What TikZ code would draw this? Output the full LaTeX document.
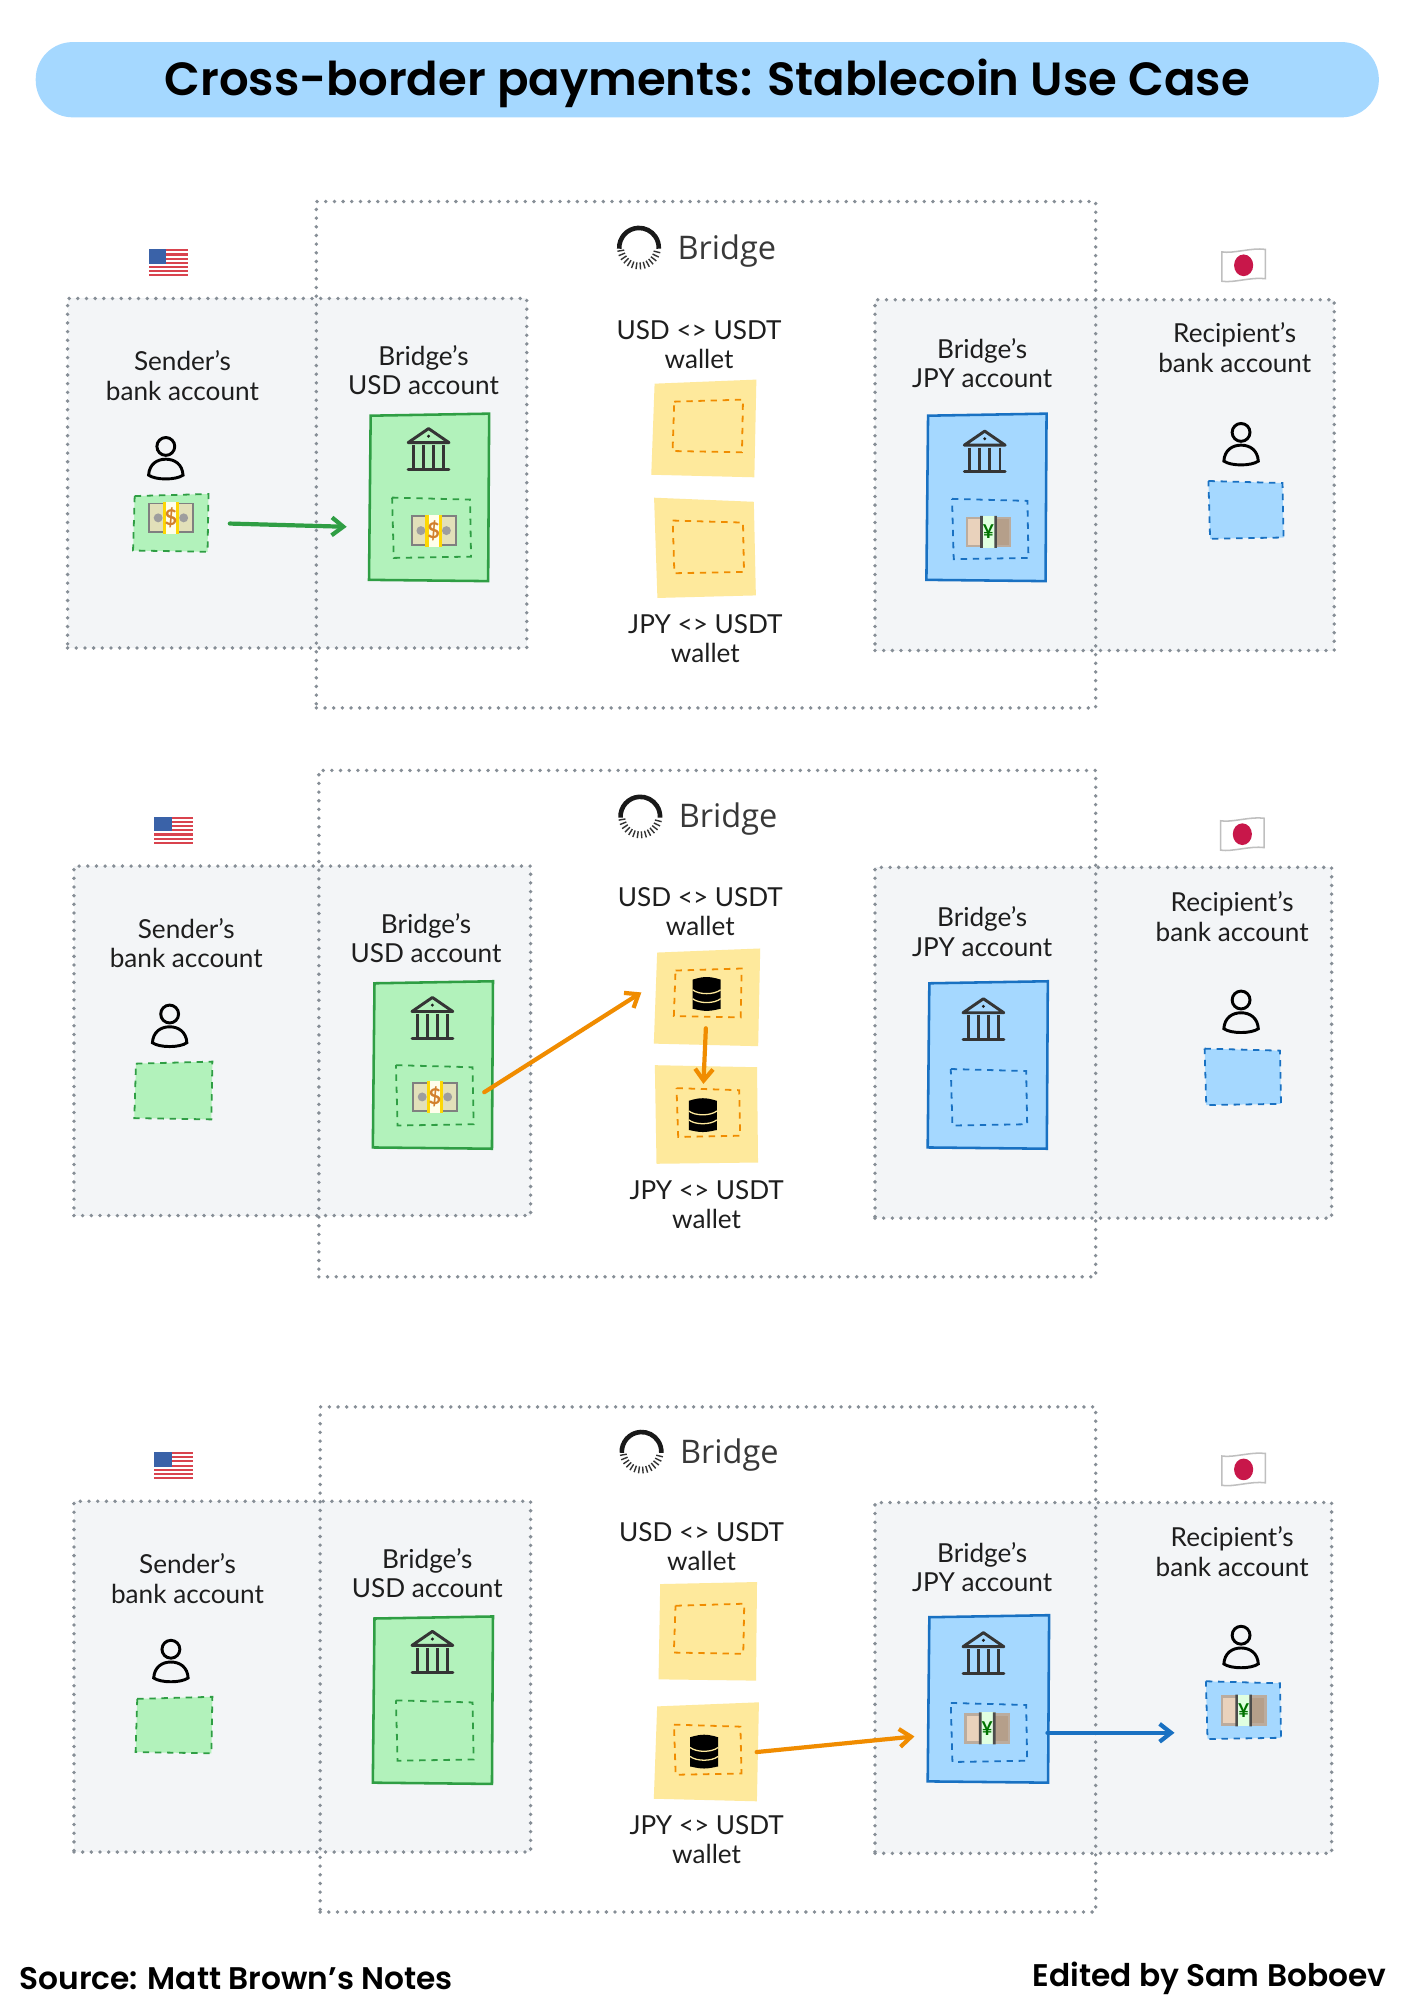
\documentclass[tikz,border=0pt]{standalone}
\usepackage{fontspec}
\setmainfont{Lato}
\newfontfamily\headf{Poppins}[BoldFont={Poppins SemiBold}]
\newfontfamily\brandf{Open Sans}
\usetikzlibrary{arrows.meta,fit,calc}
\definecolor{gfill}{HTML}{B2F2BB}
\definecolor{gline}{HTML}{2F9E44}
\definecolor{bfill}{HTML}{A5D8FF}
\definecolor{bline}{HTML}{1971C2}
\definecolor{yfill}{HTML}{FEE99C}
\definecolor{yline}{HTML}{F08C00}
\definecolor{panel}{HTML}{F3F5F7}
\definecolor{dotc}{HTML}{868E96}
\definecolor{ink}{HTML}{1E1E1E}
\definecolor{usred}{HTML}{D9434E}
\definecolor{usblue}{HTML}{3A62A8}
\definecolor{jpred}{HTML}{C8174A}
\tikzset{
  dotrect/.style={draw=dotc,line width=3pt,dash pattern=on 0pt off 6.8pt,line cap=round,inner sep=0pt},
  lbl/.style={align=center,text=ink,font=\fontsize{20.5}{23}\selectfont,inner sep=0pt},
  solidg/.style={fill=gfill,draw=gline,line width=2pt},
  solidb/.style={fill=bfill,draw=bline,line width=2pt},
  solidy/.style={fill=yfill},
  dashg/.style={draw=gline,line width=1.4pt,dash pattern=on 5pt off 4.5pt},
  dashb/.style={draw=bline,line width=1.4pt,dash pattern=on 5pt off 4.5pt},
  dashy/.style={draw=yline,line width=1.4pt,dash pattern=on 5pt off 4.5pt},
  fillg/.style={fill=gfill,dashg},
  fillb/.style={fill=bfill,dashb},
  conn/.style={line width=3.3pt,line cap=round,-{Straight Barb[length=9pt,width=14pt,line width=3.3pt]}},
}
% hand-drawn box: name, x1,y1,x2,y2, style, jitter
\newcommand{\mysk}[7]{%
  \node[fit={(#2,#3)(#4,#5)},inner sep=0pt] (#1) {};
  \path[#6] (#2+#7*0.6,#3+#7*0.9) -- (#4+#7*0.5,#3-#7*0.7) -- (#4-#7*0.3,#5+#7*0.6) -- (#2-#7*0.7,#5-#7*0.4) -- cycle;
}
\newcommand{\mylabel}[4]{\node[lbl] (#1) at (#2,#3) {#4};}
\newcommand{\myperson}[3]{%
  \node[inner sep=0pt,minimum width=28pt,minimum height=34pt] (#1) at (#2,#3) {};
  \begin{scope}[shift={(#2,#3)},draw=black,line width=2.3pt]
    \draw (0,-9) circle (7pt);
    \draw (-13.5,13.5) .. controls (-13,5) and (-7,1) .. (0,1) .. controls (7,1) and (13,5) .. (13.5,13.5) .. controls (8,17.5) and (-8,17.5) .. (-13.5,13.5) -- cycle;
  \end{scope}}
\newcommand{\mybank}[3]{%
  \node[inner sep=0pt,minimum width=34pt,minimum height=34pt] (#1) at (#2,#3) {};
  \begin{scope}[shift={(#2,#3)},draw=ink!90,line width=2.3pt,line join=round]
    \draw (-16,-5) -- (0,-16) -- (16,-5) -- cycle;
    \fill[ink] (0,-10) circle (1.3pt);
    \draw[line cap=round] (-16,16) -- (16,16);
    \foreach \cx in {-12,-4,4,12} {\draw (\cx,-3) -- (\cx,15);}
  \end{scope}}
\newcommand{\mydollar}[3]{%
  \begin{scope}[shift={(#2,#3)}]
    \fill[black!50] (-18,-12) rectangle (18,12);
    \fill[black!18!olive!22] (-16.5,-10.5) rectangle (16.5,10.5);
    \fill[black!38] (-10,0) circle (3.5pt) (10,0) circle (3.5pt);
    \fill[yellow!75!orange] (-6.5,-12.5) rectangle (6.5,12.5);
    \fill[white!92!yellow] (-4,-12.5) rectangle (4,12.5);
  \end{scope}
  \node[inner sep=0pt,text=brown!70!orange,font=\fontsize{17}{17}\selectfont\bfseries] (#1) at (#2,#3) {\$};}
\newcommand{\myyen}[3]{%
  \begin{scope}[shift={(#2,#3)}]
    \fill[brown!35!gray!65] (-18,-12) rectangle (18,12);
    \fill[brown!35!white] (-16,-10) rectangle (-5,10);
    \fill[brown!45!gray!75] (5,-10) rectangle (16,10);
    \fill[green!12!white] (-6,-12.5) rectangle (6,12.5);
    \fill[black!70] (-6.5,-12.5) rectangle (-4.5,12.5) (4.5,-12.5) rectangle (6.5,12.5);
  \end{scope}
  \node[inner sep=0pt,text=green!45!black,font=\fontsize{15}{15}\selectfont\bfseries] (#1) at (#2,#3) {¥};}
\newcommand{\mydb}[3]{%
  \node[inner sep=0pt,minimum width=22pt,minimum height=26pt] (#1) at (#2,#3) {};
  \begin{scope}[shift={(#2,#3)}]
    \fill[black,rounded corners=3pt] (-11,-8) arc[start angle=180,end angle=0,x radius=11pt,y radius=5pt] -- (11,9) arc[start angle=0,end angle=-180,x radius=11pt,y radius=4.5pt] -- cycle;
    \draw[yfill,line width=1pt] (-11,-3) .. controls (-6,1) and (6,1) .. (11,-3);
    \draw[yfill,line width=1pt] (-11,4) .. controls (-6,8) and (6,8) .. (11,4);
  \end{scope}}
\newcommand{\myus}[3]{%
  \node[inner sep=0pt,minimum width=30pt,minimum height=21pt] (#1) at (#2,#3) {};
  \begin{scope}[shift={(#2,#3)}]
    \fill[white] (-15,-10.5) rectangle (15,10.5);
    \foreach \k in {0,2,4,6,8,10,12} {\fill[usred] (-15,-10.5+\k*1.615) rectangle (15,-10.5+\k*1.615+1.615);}
    \fill[usblue] (-15,-10.5) rectangle (-1.5,0.8);
  \end{scope}}
\newcommand{\myjp}[3]{%
  \node[inner sep=0pt,minimum width=35pt,minimum height=26pt] (#1) at (#2,#3) {};
  \begin{scope}[shift={(#2,#3)}]
    \fill[white,draw=black!25,line width=1.2pt] (-17,-10.5) .. controls (-8,-9) and (6,-14) .. (17,-12.5) -- (17,10.5) .. controls (6,9) and (-8,14) .. (-17,12.5) -- cycle;
    \fill[jpred] (0,0) ellipse (7.5pt and 8.5pt);
  \end{scope}}
\newcommand{\mylogo}[3]{%
  \node[inner sep=0pt,minimum width=34pt,minimum height=34pt] (#1) at (#2,#3) {};
  \begin{scope}[shift={(#2,#3)}]
    \draw[black!90,line width=3.6pt] (-15.5,1) arc[start angle=183,end angle=-3,radius=15.5pt];
    \foreach \a in {190,202,...,350} {\draw[black!80,line width=1.1pt] (\a:11.8pt) -- (\a:17.2pt);}
  \end{scope}}
\newcommand{\mybrand}[3]{\node[inner sep=0pt,anchor=west,text=black!78,font=\brandf\fontsize{25.5}{30}\selectfont] (#1) at (#2,#3+2.5) {Bridge};}
\begin{document}
\begin{tikzpicture}[x=1pt,y=-1pt]
\useasboundingbox (0,0) rectangle (1108.6,1568);
\fill[white] (0,0) rectangle (1108.6,1568);
% title
\node[fill=bfill,rounded corners=29pt,fit={(28,33)(1081,92)},inner sep=0pt] (titlebar) {};
\node[font=\headf\bfseries\fontsize{36.5}{44}\selectfont,text=black,inner sep=0pt] (titletext) at (554.5,65) {Cross-border payments: Stablecoin Use Case};

%%% PANEL 1
\node[dotrect,fill=panel,fit={(53,234)(413,508)}] (leftA) {};
\node[dotrect,fill=panel,fit={(686,235)(1046,510)}] (rightA) {};
\node[dotrect,fit={(248,158)(859,555)}] (bigA) {};
\myus{usA}{132}{206}
\myjp{jpA}{975}{208}
\mylogo{logoA}{501}{194}
\mybrand{brandA}{531}{194}
\mylabel{senderA}{143}{294.5}{Sender’s\\bank account}
\mylabel{busdA}{332}{290}{Bridge’s\\USD account}
\mylabel{uwalletA}{548}{270}{USD <> USDT\\wallet}
\mylabel{jwalletA}{553}{500.5}{JPY <> USDT\\wallet}
\mylabel{bjpyA}{770}{284.5}{Bridge’s\\JPY account}
\mylabel{recipA}{968}{272.5}{Recipient’s\\bank account}
\mysk{ybA}{512}{299}{592}{373}{solidy}{2}
\mysk{yjA}{514}{392}{592}{468}{solidy}{-2}
\mysk{ybdA}{528}{314}{582}{354}{dashy}{1}
\mysk{yjdA}{528}{409}{583}{449}{dashy}{-1}
\mysk{gbA}{290}{325}{383}{455}{solidg}{1}
\mybank{bankgA}{336}{352}
\mysk{gdA}{308}{391}{369}{437}{dashg}{-1}
\mydollar{moneygA}{340}{416}
\mysk{bbA}{727}{325}{820}{455}{solidb}{1}
\mybank{bankbA}{772}{354}
\mysk{bdA}{747}{392}{806}{438}{dashb}{-1}
\myyen{moneybA}{775}{417}
\myperson{personLA}{130}{359}
\mysk{sgA}{105}{388}{163}{432}{fillg}{1}
\mydollar{moneysA}{134}{406}
\myperson{personRA}{973}{348}
\mysk{sbA}{948}{378}{1006}{422}{fillb}{-1}
\draw[conn,gline,yshift=3pt,shorten <=17pt,shorten >=36pt] (sgA.east) -- (gdA.west);

%%% PANEL 2
\node[dotrect,fill=panel,fit={(58,679)(416,953)}] (leftB) {};
\node[dotrect,fill=panel,fit={(686,680)(1044,955)}] (rightB) {};
\node[dotrect,fit={(250,604)(859,1001)}] (bigB) {};
\myus{usB}{136}{651}
\myjp{jpB}{974}{654}
\mylogo{logoB}{502}{640}
\mybrand{brandB}{532}{640}
\mylabel{senderB}{146}{739.5}{Sender’s\\bank account}
\mylabel{busdB}{334}{735.5}{Bridge’s\\USD account}
\mylabel{uwalletB}{549}{714.5}{USD <> USDT\\wallet}
\mylabel{jwalletB}{554}{944.5}{JPY <> USDT\\wallet}
\mylabel{bjpyB}{770}{730.5}{Bridge’s\\JPY account}
\mylabel{recipB}{966}{718.5}{Recipient’s\\bank account}
\mysk{ybB}{514}{745}{595}{819}{solidy}{2}
\mysk{yjB}{514}{836}{594}{912}{solidy}{-1}
\mysk{ybdB}{529}{760}{581}{797}{dashy}{1}
\mysk{yjdB}{531}{854}{580}{891}{dashy}{-1}
\mydb{dbuB}{554}{779}
\mydb{dbjB}{551}{874}
\mysk{gbB}{293}{770}{386}{900}{solidg}{1}
\mybank{bankgB}{339}{798}
\mysk{gdB}{311}{836}{371}{882}{dashg}{-1}
\mydollar{moneygB}{341}{860}
\mysk{bbB}{728}{770}{821}{900}{solidb}{1}
\mybank{bankbB}{771}{799}
\mysk{bdB}{746}{839}{805}{882}{dashb}{-1}
\myperson{personLB}{133}{804}
\mysk{sgB}{106}{833}{166}{877}{fillg}{1}
\myperson{personRB}{973}{793}
\mysk{sbB}{945}{823}{1004}{866}{fillb}{-1}
\draw[conn,yline,shorten <=10pt,shorten >=13pt] (gdB.-5) -- (ybB.165);
\draw[conn,yline,shorten <=14pt,shorten >=11pt] (dbuB.south) -- (dbjB.north);

%%% PANEL 3
\node[dotrect,fill=panel,fit={(58,1177)(416,1452)}] (leftC) {};
\node[dotrect,fill=panel,fit={(686,1178)(1044,1453)}] (rightC) {};
\node[dotrect,fit={(251,1103)(859,1499)}] (bigC) {};
\myus{usC}{136}{1149}
\myjp{jpC}{975}{1152}
\mylogo{logoC}{503}{1138}
\mybrand{brandC}{533}{1138}
\mylabel{senderC}{147}{1237.5}{Sender’s\\bank account}
\mylabel{busdC}{335}{1233.5}{Bridge’s\\USD account}
\mylabel{uwalletC}{550}{1212.5}{USD <> USDT\\wallet}
\mylabel{jwalletC}{554}{1442.5}{JPY <> USDT\\wallet}
\mylabel{bjpyC}{770}{1228.5}{Bridge’s\\JPY account}
\mylabel{recipC}{966}{1216.5}{Recipient’s\\bank account}
\mysk{ybC}{517}{1241}{593}{1317}{solidy}{1}
\mysk{yjC}{514}{1336}{594}{1411}{solidy}{2}
\mysk{ybdC}{529}{1258}{583}{1296}{dashy}{1}
\mysk{yjdC}{529}{1353}{581}{1391}{dashy}{-1}
\mydb{dbjC}{552}{1373}
\mysk{gbC}{293}{1268}{386}{1398}{solidg}{1}
\mybank{bankgC}{339}{1295}
\mysk{gdC}{311}{1334}{371}{1380}{dashg}{-1}
\mysk{bbC}{728}{1267}{822}{1397}{solidb}{1}
\mybank{bankbC}{771}{1296}
\mysk{bdC}{746}{1336}{805}{1381}{dashb}{-1}
\myyen{moneybC}{774}{1355}
\myperson{personLC}{134}{1302}
\mysk{sgC}{107}{1331}{166}{1374}{fillg}{1}
\myperson{personRC}{973}{1291}
\mysk{sbC}{946}{1319}{1004}{1363}{fillb}{-1}
\myyen{moneysC}{975}{1341}
\draw[conn,yline,yshift=1pt,shorten <=-1pt,shorten >=29pt] (yjC.east) -- (bdC.west);
\draw[conn,bline,shorten <=16pt,shorten >=25pt] (bdC.east) -- (sbC.west |- bdC.east);

% footer
\node[anchor=west,font=\headf\bfseries\fontsize{24.5}{28}\selectfont,inner sep=0pt] (source) at (15,1551) {Source: Matt Brown’s Notes};
\node[anchor=east,font=\headf\bfseries\fontsize{24.5}{28}\selectfont,inner sep=0pt] (edited) at (1087,1551) {Edited by Sam Boboev};
\end{tikzpicture}
\end{document}
